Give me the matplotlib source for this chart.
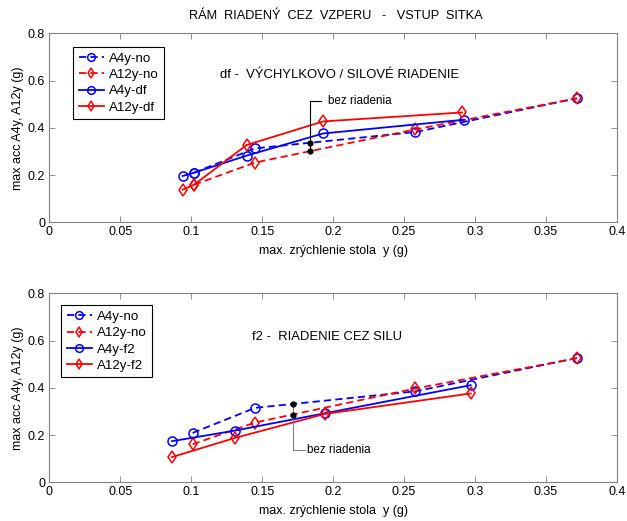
import matplotlib
matplotlib.use("Agg")
import matplotlib.pyplot as plt

plt.rcParams['font.family'] = ['Liberation Sans', 'DejaVu Sans']

# ---- data (top: df control) ----
no_x = [0.102, 0.145, 0.258, 0.372]
a4_no_y = [0.210, 0.313, 0.382, 0.525]
a12_no_y = [0.159, 0.253, 0.393, 0.525]

df_x = [0.094, 0.102, 0.139, 0.193, 0.292]
a4_df_y = [0.196, 0.210, 0.282, 0.376, 0.434]
a12_df_x = [0.094, 0.102, 0.139, 0.193, 0.291]
a12_df_y = [0.138, 0.159, 0.327, 0.427, 0.465]

# ---- data (bottom: f2 control) ----
no2_x = [0.101, 0.145, 0.258, 0.372]
a4_no2_y = [0.209, 0.315, 0.385, 0.526]
a12_no2_y = [0.161, 0.253, 0.397, 0.525]

f2_x = [0.0865, 0.131, 0.194, 0.297]
a4_f2_y = [0.174, 0.219, 0.292, 0.411]
a12_f2_y = [0.107, 0.188, 0.289, 0.376]

# "bez riadenia" marker points
bez_top_x = [0.1836, 0.1836]
bez_top_y = [0.336, 0.301]
bez_bot_x = [0.172, 0.172]
bez_bot_y = [0.331, 0.286]

xticks = [0, 0.05, 0.1, 0.15, 0.2, 0.25, 0.3, 0.35, 0.4]
xticklabels = ['0', '0.05', '0.1', '0.15', '0.2', '0.25', '0.3', '0.35', '0.4']
yticks = [0, 0.2, 0.4, 0.6, 0.8]
yticklabels = ['0', '0.2', '0.4', '0.6', '0.8']

BLUE = '#0000ff'
RED = '#ff0000'
DASH = (0, (4, 2.3))

fig = plt.figure(figsize=(6.27, 5.21), dpi=100)
ax1 = fig.add_axes([0.0787, 0.5733, 0.905, 0.3628])
ax2 = fig.add_axes([0.0787, 0.0743, 0.905, 0.3628])

mk = dict(markersize=6.5, markerfacecolor='none', markeredgewidth=1.1, linewidth=1.3)

def style(ax):
    ax.set_xlim(0, 0.4)
    ax.set_ylim(0, 0.8)
    ax.set_xticks(xticks)
    ax.set_xticklabels(xticklabels)
    ax.set_yticks(yticks)
    ax.set_yticklabels(yticklabels)
    ax.tick_params(direction='in', top=True, right=True, length=4, width=0.6,
                   color='#808080', labelsize=9, pad=3)
    for s in ax.spines.values():
        s.set_color('#808080')
        s.set_linewidth(0.8)
    ax.set_xlabel('max. zrýchlenie stola  y (g)', fontsize=9, labelpad=5)
    ax.set_ylabel('max acc A4y, A12y (g)', fontsize=9, labelpad=3)

def legend(ax, anchor):
    leg = ax.legend(loc='upper left', bbox_to_anchor=anchor, fontsize=9.6,
                    fancybox=False, edgecolor='black', handlelength=1.9,
                    borderpad=0.4, labelspacing=0.3, handletextpad=0.4,
                    borderaxespad=0, framealpha=1, markerscale=0.85)
    leg.get_frame().set_linewidth(0.8)

# top
ax1.plot(no_x, a4_no_y, color=BLUE, linestyle=DASH, marker='o', label='A4y-no', **mk)
ax1.plot(no_x, a12_no_y, color=RED, linestyle=DASH, marker='d', label='A12y-no', **mk)
ax1.plot(df_x, a4_df_y, color=BLUE, linestyle='-', marker='o', label='A4y-df', **mk)
ax1.plot(a12_df_x, a12_df_y, color=RED, linestyle='-', marker='d', label='A12y-df', **mk)
ax1.plot([bez_top_x[0], bez_top_x[0], bez_top_x[0] + 0.008], [bez_top_y[1], 0.515, 0.515],
         color='black', linewidth=0.8)
ax1.plot(bez_top_x, bez_top_y, 'o', color='black', markersize=3.5)
ax1.text(0.1965, 0.515, 'bez riadenia', fontsize=8.4, va='center', ha='left')
ax1.text(0.12, 0.623, 'df -  VÝCHYLKOVO / SILOVÉ RIADENIE', fontsize=9.4, va='center', ha='left')
style(ax1)
legend(ax1, (0.042, 0.927))

# bottom
ax2.plot(no2_x, a4_no2_y, color=BLUE, linestyle=DASH, marker='o', label='A4y-no', **mk)
ax2.plot(no2_x, a12_no2_y, color=RED, linestyle=DASH, marker='d', label='A12y-no', **mk)
ax2.plot(f2_x, a4_f2_y, color=BLUE, linestyle='-', marker='o', label='A4y-f2', **mk)
ax2.plot(f2_x, a12_f2_y, color=RED, linestyle='-', marker='d', label='A12y-f2', **mk)
ax2.plot([bez_bot_x[0], bez_bot_x[0], bez_bot_x[0] + 0.008], [bez_bot_y[0], 0.136, 0.136],
         color='#808080', linewidth=0.8)
ax2.plot(bez_bot_x, bez_bot_y, 'o', color='black', markersize=3.5)
ax2.text(0.1815, 0.136, 'bez riadenia', fontsize=8.4, va='center', ha='left')
ax2.text(0.1427, 0.614, 'f2 -  RIADENIE CEZ SILU', fontsize=9.4, va='center', ha='left')
style(ax2)
legend(ax2, (0.021, 0.937))

fig.text(0.535, 0.970, 'RÁM  RIADENÝ  CEZ  VZPERU   -   VSTUP  SITKA', fontsize=9.2,
         ha='center', va='center')

fig.savefig('out.png', dpi=100)
